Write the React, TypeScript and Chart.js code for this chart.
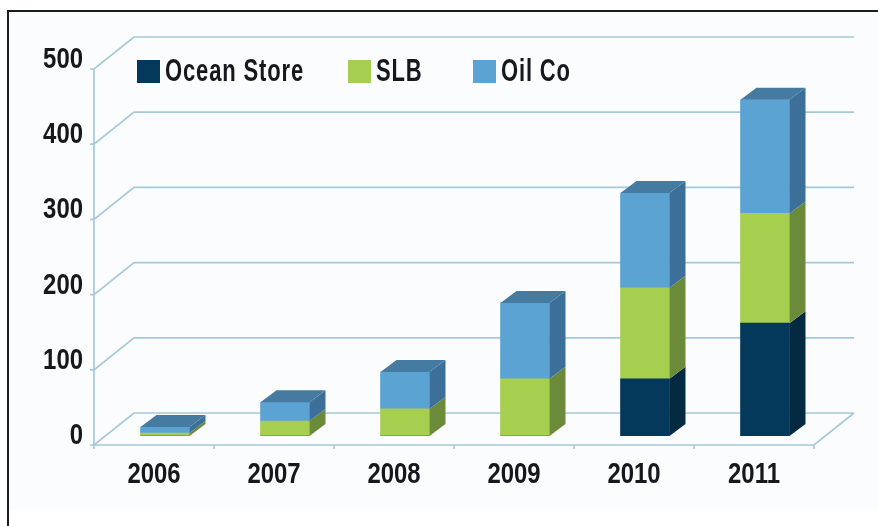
import React, { useEffect, useRef } from "react";
import { Chart, registerables } from "chart.js";

Chart.register(...registerables);

const years = ["2006", "2007", "2008", "2009", "2010", "2011"];
const oceanStore = [0, 0, 0, 0, 76, 150];
const slb = [4, 20, 36, 76, 121, 146];
const oilCo = [8, 25, 49, 101, 126, 151];

const seriesNames = ["Ocean Store", "SLB", "Oil Co"];
const frontColors = ["#05395c", "#a6ce4f", "#5ba3d3"];
const sideColors = ["#042a42", "#6c8b3a", "#3c7099"];
const topColor = "#457ba1";
const gridColor = "#a6c9da";
const textColor = "#15181c";
const FONT = '"Liberation Sans", Arial, sans-serif';

// bars stand part-way into the floor
const barInsetX = 11;
const barInsetY = 9;
const wallX = 40;
const wallY = 32;
const barDepthX = 16;
const barDepthY = 12;

// no condensed face is installed, so the text is squeezed horizontally
function squeezedText(ctx: any, text: string, x: number, y: number, align: string, sx: number, size = 29, spacing = 0) {
  ctx.save();
  ctx.translate(x, y);
  ctx.scale(sx, 1);
  ctx.font = `bold ${size}px ${FONT}`;
  ctx.letterSpacing = `${spacing}px`;
  ctx.textAlign = align;
  ctx.textBaseline = "middle";
  ctx.fillStyle = textColor;
  ctx.fillText(text, 0, 0);
  ctx.restore();
}

const scene = {
  id: "scene",
  beforeDraw(chart: any) {
    const { ctx, width, height } = chart;
    ctx.save();
    ctx.fillStyle = "#ffffff";
    ctx.fillRect(0, 0, width, height);
    ctx.fillStyle = "#fbfcfe";
    ctx.fillRect(9, 12, width - 9, 498);
    ctx.fillStyle = "#1c1c1c";
    ctx.fillRect(7, 10, width - 7, 2);
    ctx.fillRect(7, 10, 2, height - 10);
    ctx.restore();
  },
  beforeDatasetsDraw(chart: any) {
    const { ctx, scales } = chart;
    const x = scales.x;
    const y = scales.y;
    const left = x.left - barInsetX;
    const right = x.right - barInsetX;
    const py = (v: number) => y.getPixelForValue(v) + barInsetY;
    ctx.save();
    ctx.strokeStyle = gridColor;
    ctx.lineWidth = 1.7;
    ctx.beginPath();
    y.ticks.forEach((t: any) => {
      const p = py(t.value);
      ctx.moveTo(left - 4, p);
      ctx.lineTo(left, p);
      ctx.lineTo(left + wallX, p - wallY);
      ctx.lineTo(right + wallX, p - wallY);
    });
    ctx.moveTo(left, py(y.max));
    ctx.lineTo(left, py(0));
    ctx.lineTo(right, py(0));
    ctx.lineTo(right + wallX, py(0) - wallY);
    const band = (right - left) / years.length;
    for (let i = 0; i <= years.length; i++) {
      ctx.moveTo(left + band * i, py(0));
      ctx.lineTo(left + band * i, py(0) + 4);
    }
    ctx.stroke();
    ctx.restore();
  },
  afterDatasetsDraw(chart: any) {
    const { ctx, scales } = chart;
    ctx.save();
    const n = chart.data.datasets.length;
    for (let d = 0; d < n; d++) {
      chart.getDatasetMeta(d).data.forEach((bar: any, i: number) => {
        if (chart.data.datasets[d].data[i] <= 0) return;
        const r = bar.x + bar.width / 2;
        const l = bar.x - bar.width / 2;
        ctx.fillStyle = sideColors[d];
        ctx.beginPath();
        ctx.moveTo(r, bar.base);
        ctx.lineTo(r + barDepthX, bar.base - barDepthY);
        ctx.lineTo(r + barDepthX, bar.y - barDepthY);
        ctx.lineTo(r, bar.y);
        ctx.closePath();
        ctx.fill();
        if (d === n - 1) {
          ctx.fillStyle = topColor;
          ctx.beginPath();
          ctx.moveTo(l, bar.y);
          ctx.lineTo(l + barDepthX, bar.y - barDepthY);
          ctx.lineTo(r + barDepthX, bar.y - barDepthY);
          ctx.lineTo(r, bar.y);
          ctx.closePath();
          ctx.fill();
        }
      });
    }
    // axis labels
    scales.y.ticks.forEach((t: any) => {
      squeezedText(ctx, String(t.value), 83, scales.y.getPixelForValue(t.value), "right", 0.825);
    });
    years.forEach((label, i) => {
      squeezedText(ctx, label, scales.x.getPixelForValue(i) - 11, 475, "center", 0.825);
    });
    // legend
    const swatchX = [137, 348, 473];
    seriesNames.forEach((name, k) => {
      ctx.fillStyle = frontColors[k];
      ctx.fillRect(swatchX[k], 60, 23, 23);
      squeezedText(ctx, name, swatchX[k] + 28, 72, "left", 0.71, 31, 1.2);
    });
    ctx.restore();
  },
};

export default function App() {
  const ref = useRef<HTMLCanvasElement>(null);
  useEffect(() => {
    const chart = new Chart(ref.current as HTMLCanvasElement, {
      type: "bar",
      data: {
        labels: years,
        datasets: [
          { label: seriesNames[0], data: oceanStore, backgroundColor: frontColors[0] },
          { label: seriesNames[1], data: slb, backgroundColor: frontColors[1] },
          { label: seriesNames[2], data: oilCo, backgroundColor: frontColors[2] },
        ],
      },
      options: {
        animation: false,
        responsive: false,
        layout: { padding: { top: 60, right: 53, left: 0, bottom: 0 } },
        datasets: { bar: { barThickness: 49, borderWidth: 0 } },
        plugins: { legend: { display: false }, tooltip: { enabled: false } },
        scales: {
          x: {
            stacked: true,
            grid: { display: false },
            border: { display: false },
            afterFit: (s: any) => {
              s.height = 90;
            },
            ticks: { display: false },
          },
          y: {
            stacked: true,
            min: 0,
            max: 500,
            grid: { display: false },
            border: { display: false },
            afterFit: (s: any) => {
              s.width = 105;
            },
            ticks: { display: false, stepSize: 100 },
          },
        },
      },
      plugins: [scene],
    } as any);
    return () => chart.destroy();
  }, []);
  return (
    <div style={{ position: "absolute", left: 0, top: 0, width: 878, height: 526 }}>
      <canvas ref={ref} width={878} height={526} style={{ display: "block", filter: "blur(0.5px)" }} />
    </div>
  );
}
